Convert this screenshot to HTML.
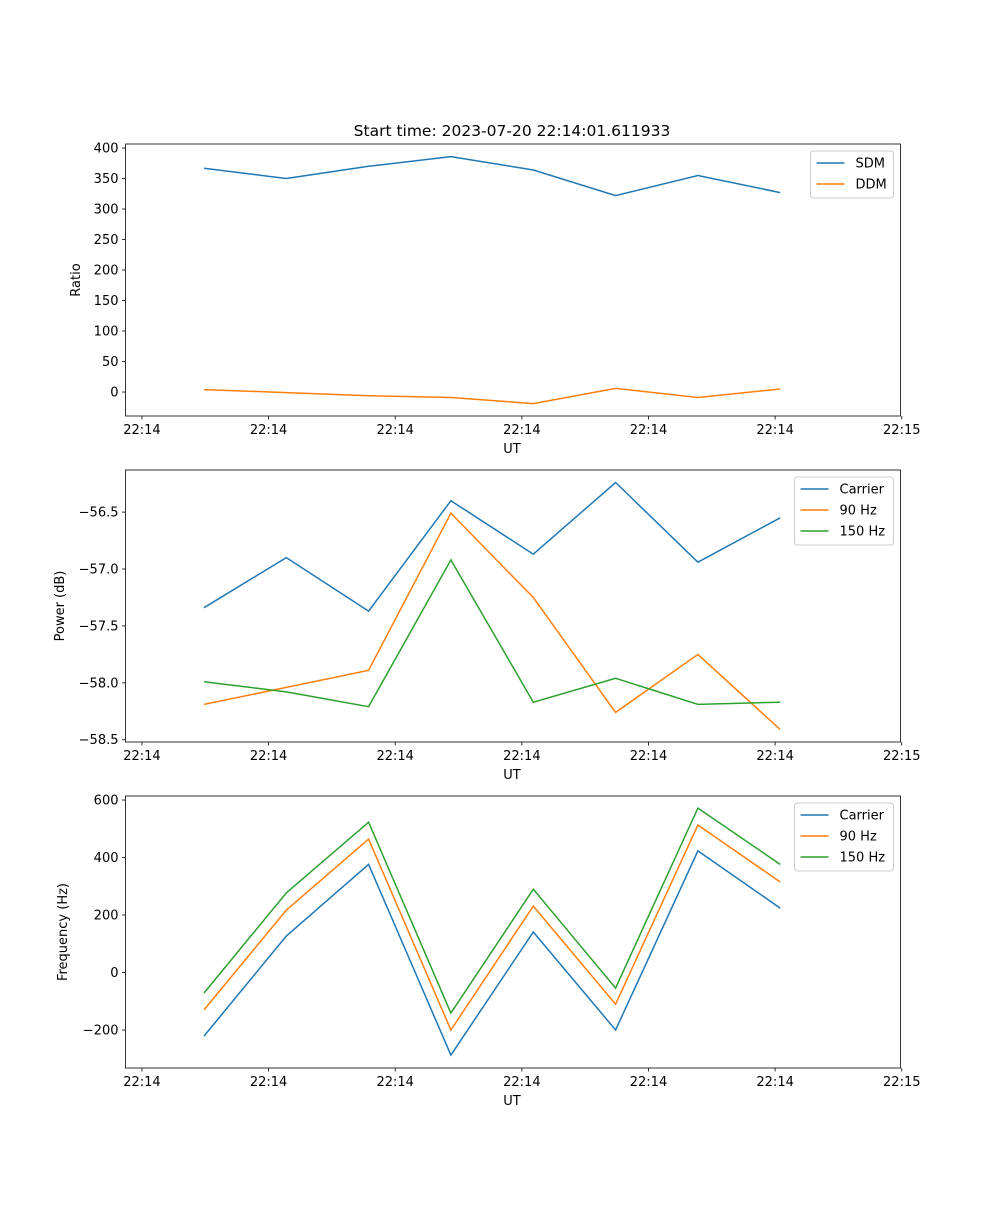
<!DOCTYPE html>
<html><head><meta charset="utf-8"><style>
html,body{margin:0;padding:0;background:#fff}
svg text{font-family:"DejaVu Sans","Liberation Sans",sans-serif;fill:#000}
</style></head><body>
<svg id="fig" width="1000" height="1200" viewBox="0 0 1000 1200" xmlns="http://www.w3.org/2000/svg">
<rect width="1000" height="1200" fill="#fff"/>
<text x="512" y="136" font-size="15.5" text-anchor="middle">Start time: 2023-07-20 22:14:01.611933</text>
</svg>
<script>
const xTickVals=[0,10,20,30,40,50,60];
const xTickLabels=["22:14","22:14","22:14","22:14","22:14","22:14","22:15"];
const xVals=[4.9,11.4,17.9,24.4,30.9,37.4,43.9,50.4];
const sdm=[367,350,370,386,364,322,355,327];
const ddm=[4,-1,-6,-9,-19,6,-9,5];
const p1Ticks=[0,50,100,150,200,250,300,350,400];
const powCarrier=[-57.34,-56.90,-57.37,-56.40,-56.87,-56.24,-56.94,-56.55];
const pow90=[-58.19,-58.04,-57.89,-56.51,-57.25,-58.26,-57.75,-58.41];
const pow150=[-57.99,-58.08,-58.21,-56.92,-58.17,-57.96,-58.19,-58.17];
const p2Ticks=[-58.5,-58.0,-57.5,-57.0,-56.5];
const p2TickLabels=["\u221258.5","\u221258.0","\u221257.5","\u221257.0","\u221256.5"];
const frqCarrier=[-221,127,376,-287,141,-200,423,224];
const frq90=[-130,217,464,-200,231,-110,513,315];
const frq150=[-71,277,523,-141,290,-54,572,376];
const p3Ticks=[-200,0,200,400,600];
const p3TickLabels=["\u2212200","0","200","400","600"];

const NS="http://www.w3.org/2000/svg";
const svg=document.getElementById('fig');
const L=125.5,R=900.5,X0=-1.3,X1=59.9;
function xs(v){return L+(v-X0)/(X1-X0)*(R-L);}
function mk(t,a,p){const e=document.createElementNS(NS,t);for(const k in a)e.setAttribute(k,a[k]);(p||svg).appendChild(e);return e;}
const C=["#1f77b4","#ff7f0e","#2ca02c"];
function panel(name,top,bot,y0,y1,ticks,tlabels,ylabel,series,names,legW){
  const g=mk('g',{});
  
  
  const ys=v=>bot-(v-y0)/(y1-y0)*(bot-top);
  series.forEach((s,i)=>{
    const pts=s.map((v,j)=>xs(xVals[j]).toFixed(1)+','+ys(v).toFixed(1)).join(' ');
    const pl=mk('polyline',{points:pts,fill:'none',stroke:C[i],'stroke-width':1.5},g);
    
    
  });
  const fr=mk('rect',{x:L,y:top,width:R-L,height:bot-top,fill:'none',stroke:'#000','stroke-width':0.8},g);
  
  
  xTickVals.forEach((v,i)=>{
    const x=xs(v);
    mk('line',{x1:x,x2:x,y1:bot,y2:bot+3.5,stroke:'#000','stroke-width':0.8},g);
    const t=mk('text',{x:x,y:bot+18,'font-size':13,'text-anchor':'middle'},g);
    t.textContent=xTickLabels[i];
    
    
  });
  ticks.forEach((v,i)=>{
    const y=ys(v);
    mk('line',{x1:L-3.5,x2:L,y1:y,y2:y,stroke:'#000','stroke-width':0.8},g);
    const t=mk('text',{x:L-7,y:y+4.5,'font-size':13,'text-anchor':'end'},g);
    t.textContent=tlabels?tlabels[i]:String(v);
    
    
  });
  const xl=mk('text',{x:512,y:bot+37,'font-size':13,'text-anchor':'middle'},g);
  xl.textContent='UT';
  
  
  const yx=ylabel[1];
  const yl=mk('text',{x:yx,y:(top+bot)/2,'font-size':13,'text-anchor':'middle',transform:`rotate(-90 ${yx} ${(top+bot)/2})`},g);
  yl.textContent=ylabel[0];
  
  
  const lx=R-7-legW, ly=top+7;
  const lg=mk('g',{},g);
  
  
  mk('rect',{x:lx,y:ly,width:legW,height:names.length*21+5,rx:3,fill:'#fff','fill-opacity':0.8,stroke:'#ccc'},lg);
  names.forEach((n,i)=>{
    const yy=ly+12+i*21;
    mk('line',{x1:lx+6,x2:lx+34,y1:yy,y2:yy,stroke:C[i],'stroke-width':1.5},lg);
    const t=mk('text',{x:lx+45,y:yy+4.5,'font-size':13},lg);
    t.textContent=n;
    
    
  });
}
panel('ratio',144,416,-39.3,406.6,p1Ticks,null,['Ratio',80],[sdm,ddm],['SDM','DDM'],83);
panel('power',470,742,-58.52,-56.13,p2Ticks,p2TickLabels,['Power (dB)',64],[powCarrier,pow90,pow150],['Carrier','90 Hz','150 Hz'],99);
panel('frequency',796,1068,-332,614,p3Ticks,p3TickLabels,['Frequency (Hz)',67],[frqCarrier,frq90,frq150],['Carrier','90 Hz','150 Hz'],99);
</script>
</body></html>
